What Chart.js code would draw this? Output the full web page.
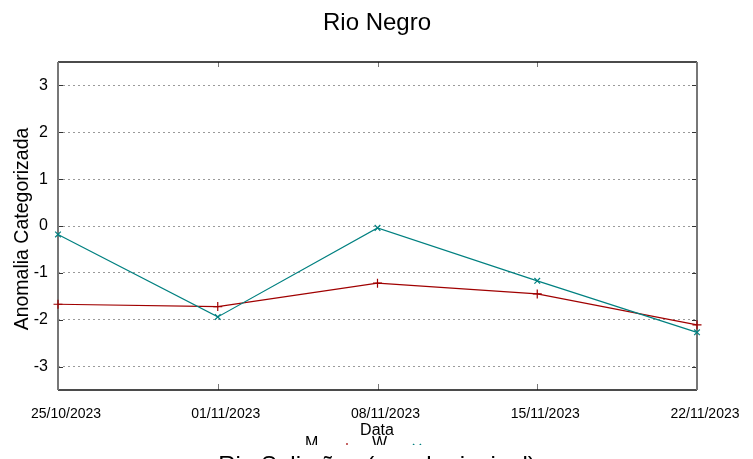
<!DOCTYPE html>
<html>
<head>
<meta charset="utf-8">
<script src="https://cdn.jsdelivr.net/npm/chart.js@4.4.0/dist/chart.umd.min.js"></script>
<style>
  html, body { margin: 0; padding: 0; background: #ffffff; }
  #chartBox { width: 753px; height: 459px; }
</style>
</head>
<body>
<div id="chartBox"><canvas id="RioChart"></canvas></div>
<script>
const RioChartElement = document.getElementById("RioChart");

// weekly dates on the x axis
const DateLabels = ['25/10/2023', '01/11/2023', '08/11/2023', '15/11/2023', '22/11/2023'];

// series
const SeriesM = [-1.67, -1.72, -1.22, -1.45, -2.11];
const SeriesW = [-0.18, -1.94, -0.04, -1.17, -2.27];
const SeriesNames = ['M', 'W'];

const YTicks = [-3, -2, -1, 0, 1, 2, 3];
const YMin = -3.5;
const YMax = 3.5;

const ChartTitle = 'Rio Negro';
const XTitle = 'Data';
const YTitle = 'Anomalia Categorizada';
const NextPlotTitle = 'Rio Solimões (canal principal)';

const RED = '#a00000';
const TEAL = '#008080';
const FONT = '"Liberation Sans", Arial, sans-serif';

var RioChartVar = null;


function DrawPlus(ctx, x, y, r, color)
{
    ctx.strokeStyle = color;
    ctx.lineWidth = 1.2;
    ctx.beginPath();
    ctx.moveTo(x - r, y); ctx.lineTo(x + r, y);
    ctx.moveTo(x, y - r); ctx.lineTo(x, y + r);
    ctx.stroke();
}

function DrawCross(ctx, x, y, r, color)
{
    ctx.strokeStyle = color;
    ctx.lineWidth = 1.2;
    ctx.beginPath();
    ctx.moveTo(x - r, y - r); ctx.lineTo(x + r, y + r);
    ctx.moveTo(x - r, y + r); ctx.lineTo(x + r, y - r);
    ctx.stroke();
}

// gnuplot-like box with inward ticks
const FramePlugin = {
    id: 'framePlugin',
    beforeDatasetsDraw(chart) {
        const ctx = chart.ctx;
        const a = chart.chartArea;
        const xs = chart.scales.x;
        const ys = chart.scales.y;
        ctx.save();

        // tick marks
        ctx.strokeStyle = '#333333';
        ctx.lineWidth = 1;
        ctx.beginPath();
        for (let i = 0; i < YTicks.length; i++)
        {
            const py = Math.round(ys.getPixelForValue(YTicks[i])) + 0.5;
            ctx.moveTo(a.left, py); ctx.lineTo(a.left + 5, py);
            ctx.moveTo(a.right, py); ctx.lineTo(a.right - 5, py);
        }
        ctx.stroke();
        ctx.strokeStyle = '#777777';
        ctx.beginPath();
        for (let i = 1; i < DateLabels.length - 1; i++)
        {
            const px = Math.round(xs.getPixelForValue(i)) + 0.5;
            ctx.moveTo(px, a.top); ctx.lineTo(px, a.top + 5);
            ctx.moveTo(px, a.bottom); ctx.lineTo(px, a.bottom - 6);
        }
        ctx.stroke();

        // border
        ctx.lineWidth = 1.5;
        ctx.strokeStyle = '#111111';
        ctx.beginPath();
        ctx.moveTo(a.left, a.top); ctx.lineTo(a.right, a.top);
        ctx.moveTo(a.left, a.bottom); ctx.lineTo(a.right, a.bottom);
        ctx.stroke();
        ctx.lineWidth = 2;
        ctx.strokeStyle = '#777777';
        ctx.beginPath();
        ctx.moveTo(a.left, a.top); ctx.lineTo(a.left, a.bottom);
        ctx.moveTo(a.right, a.top); ctx.lineTo(a.right, a.bottom);
        ctx.stroke();

        ctx.restore();
    },
    afterDraw(chart) {
        const ctx = chart.ctx;
        ctx.save();
        ctx.fillStyle = '#000000';
        ctx.textAlign = 'center';
        ctx.textBaseline = 'alphabetic';

        ctx.font = '24px ' + FONT;
        ctx.fillText(ChartTitle, 377, 30);

        ctx.font = '16px ' + FONT;
        ctx.fillText(XTitle, 377, 435);

        ctx.save();
        ctx.translate(28, 229);
        ctx.rotate(-Math.PI / 2);
        ctx.font = '19.5px ' + FONT;
        ctx.fillText(YTitle, 0, 0);
        ctx.restore();

        // key (mostly hidden by the next plot below)
        ctx.textAlign = 'left';
        ctx.font = '16px ' + FONT;
        ctx.fillText(SeriesNames[0], 305, 448);
        ctx.fillText(SeriesNames[1], 372, 448);
        ctx.lineWidth = 1.2;
        ctx.strokeStyle = RED;
        ctx.beginPath(); ctx.moveTo(327, 448); ctx.lineTo(367, 448); ctx.stroke();
        DrawPlus(ctx, 347, 448, 5, RED);
        ctx.strokeStyle = TEAL;
        ctx.beginPath(); ctx.moveTo(397, 448); ctx.lineTo(437, 448); ctx.stroke();
        DrawCross(ctx, 417, 448, 4, TEAL);

        // next plot of the multiplot starts here
        ctx.fillStyle = '#ffffff';
        ctx.fillRect(0, 445, chart.width, chart.height - 445);
        ctx.fillStyle = '#000000';
        ctx.textAlign = 'center';
        ctx.font = '24px ' + FONT;
        ctx.fillText(NextPlotTitle, 377, 473);

        ctx.restore();
    }
};


function GetDatasets()
{
    var WDataset = {
        label: SeriesNames[1],
        data: SeriesW,
        borderColor: TEAL,
        backgroundColor: TEAL,
        borderWidth: 1.2,
        pointStyle: 'crossRot',
        pointRadius: 4,
        pointBorderWidth: 1.2,
        pointBorderColor: TEAL,
        tension: 0,
        clip: false,
        order: 0
    };
    var MDataset = {
        label: SeriesNames[0],
        data: SeriesM,
        borderColor: RED,
        backgroundColor: RED,
        borderWidth: 1.2,
        pointStyle: 'cross',
        pointRadius: 4.5,
        pointBorderWidth: 1.2,
        pointBorderColor: RED,
        tension: 0,
        clip: false,
        order: 1
    };
    return [MDataset, WDataset];
}

function GetChartOption()
{
    return {
        responsive: false,
        animation: false,
        devicePixelRatio: 1,
        layout: {
            padding: { left: 0, top: 62, right: 56, bottom: 0 }
        },
        plugins: {
            legend: { display: false },
            tooltip: { enabled: false },
            title: { display: false }
        },
        scales: {
            x: {
                type: 'category',
                offset: false,
                grid: { display: false, drawTicks: false },
                border: { display: false },
                ticks: {
                    color: '#000000',
                    font: { family: FONT, size: 14 },
                    padding: 16,
                    labelOffset: 8,
                    maxRotation: 0,
                    autoSkip: false
                },
                afterFit: (scale) => { scale.height = 69; }
            },
            y: {
                min: YMin,
                max: YMax,
                afterBuildTicks: (scale) => {
                    scale.ticks = YTicks.map(v => ({ value: v }));
                },
                grid: {
                    color: '#9a9a9a',
                    lineWidth: 1,
                    drawTicks: false
                },
                border: { display: false, dash: [2, 3] },
                ticks: {
                    color: '#000000',
                    font: { family: FONT, size: 16 },
                    padding: 10
                },
                afterFit: (scale) => { scale.width = 58; }
            }
        }
    };
}

function RenderRioChart()
{
    RioChartElement.width = 753;
    RioChartElement.height = 459;

    RioChartVar = new Chart(RioChartElement, {
        type: 'line',
        data: {
            labels: DateLabels,
            datasets: GetDatasets()
        },
        options: GetChartOption(),
        plugins: [FramePlugin]
    });
}

RenderRioChart();
</script>
</body>
</html>
